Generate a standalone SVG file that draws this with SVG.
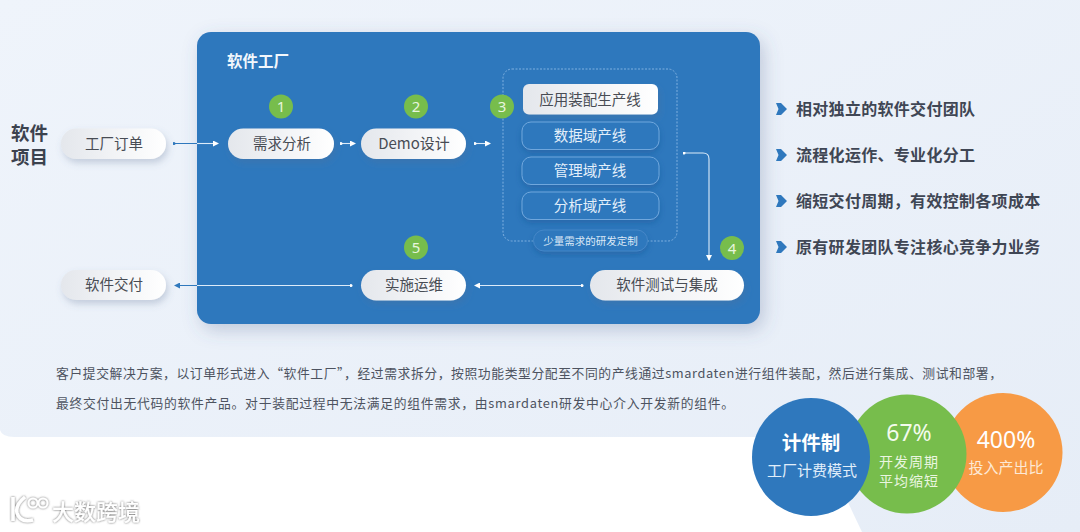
<svg xmlns="http://www.w3.org/2000/svg" width="1080" height="532" viewBox="0 0 1080 532">
<defs>
<linearGradient id="bg" x1="0" y1="0" x2="1" y2="1"><stop offset="0" stop-color="#eff4fb"/><stop offset="1" stop-color="#e6edf7"/></linearGradient>
<linearGradient id="pill" x1="0" y1="0" x2="1" y2="0"><stop offset="0" stop-color="#e4e7ec"/><stop offset="1" stop-color="#ffffff"/></linearGradient>
<filter id="sh" x="-20%" y="-30%" width="140%" height="180%"><feDropShadow dx="2" dy="4" stdDeviation="3.500" flood-color="#5a6f92" flood-opacity=".28"/></filter>
<filter id="psh" x="-10%" y="-10%" width="120%" height="120%"><feDropShadow dx="4" dy="6" stdDeviation="9" flood-color="#4a5f88" flood-opacity=".28"/></filter>
<filter id="osh" x="-10%" y="-20%" width="120%" height="150%"><feDropShadow dx="0" dy="3" stdDeviation="3" flood-color="#1c4f8c" flood-opacity=".4"/></filter>
<filter id="wm" x="-10%" y="-20%" width="120%" height="150%"><feDropShadow dx="0" dy="0" stdDeviation="1.200" flood-color="#555" flood-opacity=".95"/></filter>
<marker id="aw" viewBox="0 0 6 6" refX="5" refY="3" markerWidth="6" markerHeight="6" orient="auto" markerUnits="userSpaceOnUse"><path d="M0 0L6 3L0 6Z" fill="#fff"/></marker>
<marker id="ab" viewBox="0 0 6 6" refX="5" refY="3" markerWidth="6" markerHeight="6" orient="auto" markerUnits="userSpaceOnUse"><path d="M0 0L6 3L0 6Z" fill="#2f78bd"/></marker>
<marker id="dw" viewBox="0 0 4 4" refX="2" refY="2" markerWidth="3" markerHeight="3" markerUnits="userSpaceOnUse"><circle cx="2" cy="2" r="2" fill="#fff"/></marker>
<marker id="db" viewBox="0 0 4 4" refX="2" refY="2" markerWidth="3" markerHeight="3" markerUnits="userSpaceOnUse"><circle cx="2" cy="2" r="2" fill="#2f78bd"/></marker>
</defs>
<style>
text{font-family:"Noto Sans CJK SC","Noto Sans",sans-serif;text-anchor:middle}
.p{fill:url(#pill);filter:url(#sh)}
.pt{font-size:14.500px;fill:#484c54}
.o{fill:#2f78bd;stroke:#6fa7dd;stroke-width:1;filter:url(#osh)}
.ot{font-size:14.500px;fill:#e4effa}
.g{fill:#77bd4c}
.gt{font-size:15px;fill:#e8f5de;font-family:"Noto Sans",sans-serif}
.bl{font-size:16px;letter-spacing:.3px;font-weight:700;fill:#3f4654;text-anchor:start}
.par{font-size:12.800px;fill:#4d5360;text-anchor:start}
.w{fill:none;stroke:#dcebf9;stroke-width:1.100}
.b{fill:none;stroke:#2f78bd;stroke-width:1}
.ch{fill:#2f78bd}
.num{font-size:23px;font-family:"Noto Sans",sans-serif}
</style>
<rect width="1080" height="532" fill="#fff"/>
<path d="M0 0H1080V532H862L817 437H14Q2 437 0 430Z" fill="url(#bg)"/>
<rect x="197" y="32" width="563" height="292" rx="14" fill="#2f78bd" filter="url(#psh)"/>
<text x="258" y="67" style="font-size:15.500px;font-weight:700;fill:#f2f7fc">软件工厂</text>
<text x="29.500" y="139.500" style="font-size:18.500px;font-weight:700;fill:#3c424e">软件</text>
<text x="29.500" y="164" style="font-size:18.500px;font-weight:700;fill:#3c424e">项目</text>
<g id="connectors">
<path class="b" d="M174 143.500H197" marker-start="url(#db)"/>
<path class="w" d="M197 143.500H218" marker-end="url(#aw)"/>
<path class="w" d="M341 143.500H355" marker-start="url(#dw)" marker-end="url(#aw)"/>
<path class="w" d="M475 143.500H490" marker-start="url(#dw)" marker-end="url(#aw)"/>
<path class="w" d="M684 153H703Q709 153 709 159V260" marker-start="url(#dw)" marker-end="url(#aw)"/>
<path class="w" d="M582 285.500H475" marker-start="url(#dw)" marker-end="url(#aw)"/>
<path class="w" d="M351 285.500H197"  marker-start="url(#dw)"/>
<path class="b" d="M197 285.500H175" marker-end="url(#ab)"/>
</g>
<g id="n-order"><rect class="p" x="61" y="128.500" width="105" height="30.500" rx="15.250"/><text class="pt" x="114" y="149">工厂订单</text></g>
<g id="n-deliver"><rect class="p" x="61" y="270" width="105" height="30" rx="15"/><text class="pt" x="114" y="290">软件交付</text></g>
<g id="n-req"><rect class="p" x="228" y="128.500" width="106" height="30.500" rx="15.250"/><text class="pt" x="282" y="149">需求分析</text></g>
<g id="n-demo"><rect class="p" x="361" y="128.500" width="105" height="30.500" rx="15.250"/><text class="pt" x="414" y="149" style="font-size:15px">Demo设计</text></g>
<g id="n-ops"><rect class="p" x="361" y="270" width="105" height="30.500" rx="15.250"/><text class="pt" x="414" y="290">实施运维</text></g>
<g id="n-test"><rect class="p" x="590" y="270" width="154" height="30.500" rx="15.250"/><text class="pt" x="667" y="290">软件测试与集成</text></g>
<g id="n-lines">
<rect x="503" y="69" width="174" height="172" rx="9" fill="none" stroke="#7fb0e0" stroke-width="1" stroke-dasharray="2 1.500"/>
<rect class="p" x="523" y="84" width="135" height="30.500" rx="6"/><text class="pt" x="590" y="104.500">应用装配生产线</text>
<rect class="o" x="522" y="122" width="137" height="27.500" rx="9"/><text class="ot" x="590" y="141">数据域产线</text>
<rect class="o" x="522" y="157" width="137" height="27.500" rx="9"/><text class="ot" x="590" y="176">管理域产线</text>
<rect class="o" x="522" y="192" width="137" height="27.500" rx="9"/><text class="ot" x="590" y="211">分析域产线</text>
<rect x="533.500" y="230" width="114" height="21" rx="10.500" fill="#2f78bd" stroke="#4487c8" filter="url(#osh)"/><text x="590.500" y="245" style="font-size:10.500px;fill:#dce9f7">少量需求的研发定制</text>
</g>
<g id="b1"><circle class="g" cx="281" cy="106.500" r="12"/><text class="gt" x="281" y="112">1</text></g>
<g id="b2"><circle class="g" cx="416" cy="106.500" r="12"/><text class="gt" x="416" y="112">2</text></g>
<g id="b3"><circle class="g" cx="502" cy="106.500" r="12"/><text class="gt" x="502" y="112">3</text></g>
<g id="b4"><circle class="g" cx="732" cy="248" r="12"/><text class="gt" x="732" y="253.500">4</text></g>
<g id="b5"><circle class="g" cx="416" cy="247.500" r="12"/><text class="gt" x="416" y="253">5</text></g>
<g id="bullets">
<path class="ch" d="M776 103H781L787 109L781 115H776L778.500 109Z"/>
<path class="ch" d="M776 149H781L787 155L781 161H776L778.500 155Z"/>
<path class="ch" d="M776 195H781L787 201L781 207H776L778.500 201Z"/>
<path class="ch" d="M776 241H781L787 247L781 253H776L778.500 247Z"/>
<text class="bl" x="796" y="114.500">相对独立的软件交付团队</text>
<text class="bl" x="796" y="160.500">流程化运作、专业化分工</text>
<text class="bl" x="796" y="207">缩短交付周期，有效控制各项成本</text>
<text class="bl" x="796" y="253">原有研发团队专注核心竞争力业务</text>
</g>
<text class="par" x="56" y="378" textLength="946" lengthAdjust="spacing">客户提交解决方案，以订单形式进入“软件工厂”，经过需求拆分，按照功能类型分配至不同的产线通过smardaten进行组件装配，然后进行集成、测试和部署，</text>
<text class="par" x="56" y="408" textLength="678" lengthAdjust="spacing">最终交付出无代码的软件产品。对于装配过程中无法满足的组件需求，由smardaten研发中心介入开发新的组件。</text>
<g id="stat-orange"><circle cx="1003" cy="452.500" r="59.500" fill="#f79a45"/><text class="num" x="1006" y="448" style="fill:#fff">400%</text><text x="1006" y="473" style="font-size:15px;fill:#fde9d5">投入产出比</text></g>
<g id="stat-green"><circle cx="907" cy="454" r="59.500" fill="#77bd4c"/><text class="num" x="909" y="441" style="fill:#f3fbec">67%</text><text x="909" y="467" style="font-size:14px;letter-spacing:1px;fill:#eaf6e0">开发周期</text><text x="909" y="486" style="font-size:14px;letter-spacing:1px;fill:#eaf6e0">平均缩短</text></g>
<g id="stat-blue"><circle cx="811" cy="457" r="59" fill="#2f78bd"/><text x="811" y="450" style="font-size:19.500px;font-weight:700;fill:#fff">计件制</text><text x="812" y="476" style="font-size:15px;fill:#e1eefa">工厂计费模式</text></g>
<g id="watermark" filter="url(#wm)">
<path d="M13 497V521M25 497Q15 505 17 513Q20 523 33 520" fill="none" stroke="#fff" stroke-width="3.500"/>
<circle cx="33" cy="503" r="4.500" fill="none" stroke="#fff" stroke-width="2"/><circle cx="43" cy="503" r="4.500" fill="none" stroke="#fff" stroke-width="2"/>
<text x="96" y="520" style="font-size:22px;font-weight:500;fill:#fff">大数跨境</text>
</g>
</svg>
